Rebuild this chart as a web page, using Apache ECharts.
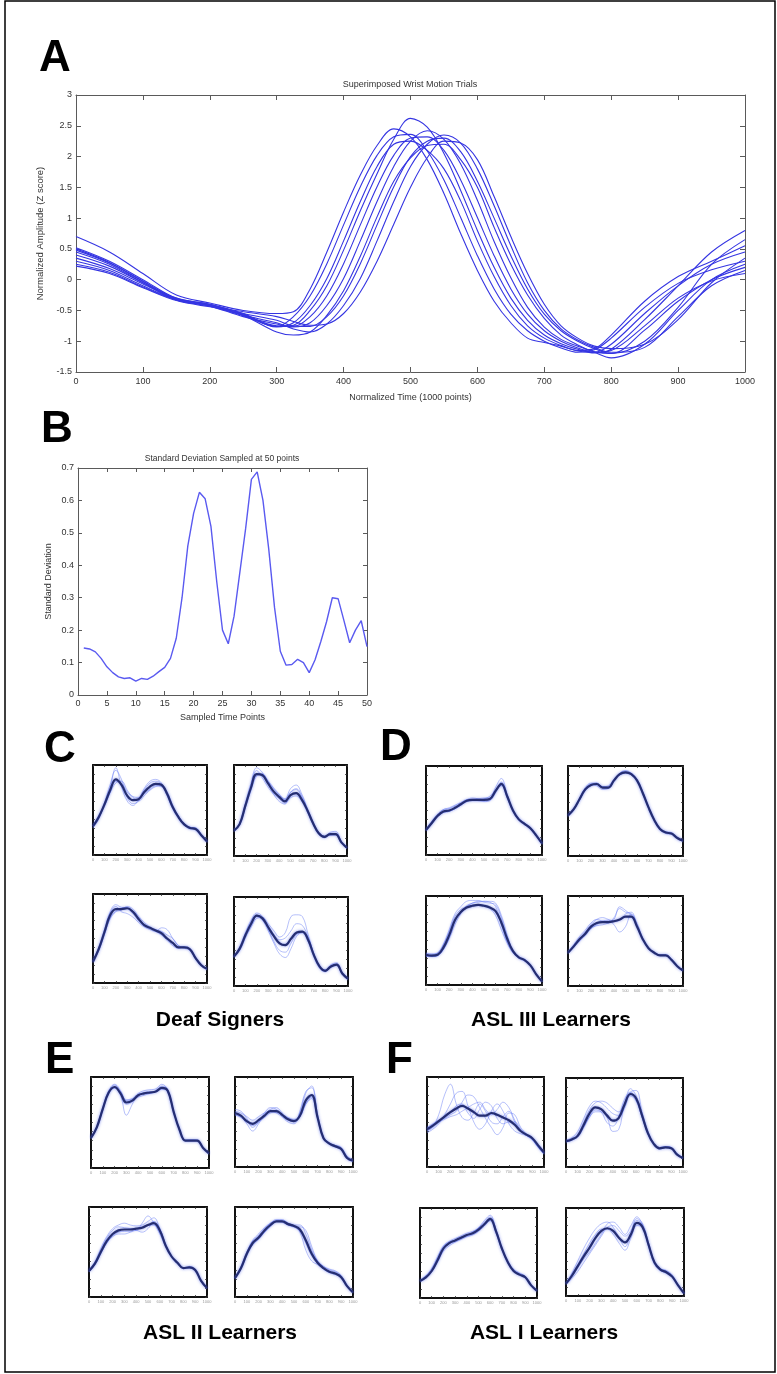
<!DOCTYPE html>
<html><head><meta charset="utf-8">
<script src="https://cdn.jsdelivr.net/npm/echarts@6/dist/echarts.min.js"></script>
<style>html,body{margin:0;padding:0;background:#fff}#c{width:777px;height:1374px}</style>
</head><body><div id="c"></div><script>
// ---------- Panel A: superimposed trials ----------
const XA = [0,50,100,150,200,250,300,325,350,375,400,425,450,475,500,525,550,575,600,625,650,675,700,725,750,775,800,850,900,950,1000];
const A1 = [0.70,0.45,0.10,-0.25,-0.38,-0.50,-0.55,-0.52,-0.15,0.45,1.10,1.70,2.18,2.45,2.32,1.95,1.40,0.75,0.15,-0.35,-0.70,-0.95,-1.02,-1.08,-1.15,-1.12,-0.90,-0.35,0.05,0.30,0.55];
const A2 = [0.52,0.30,0.00,-0.30,-0.40,-0.55,-0.76,-0.74,-0.50,-0.10,0.48,1.12,1.72,2.28,2.62,2.48,2.05,1.45,0.80,0.20,-0.30,-0.66,-0.90,-1.04,-1.13,-1.19,-1.13,-0.65,-0.10,0.45,0.80];
const A3 = [0.50,0.28,-0.02,-0.32,-0.42,-0.58,-0.76,-0.60,-0.26,0.26,0.89,1.51,2.02,2.32,2.36,2.09,1.62,1.01,0.39,-0.15,-0.56,-0.83,-1.00,-1.11,-1.18,-1.14,-0.95,-0.45,-0.06,0.16,0.30];
const A4 = [0.45,0.25,-0.05,-0.33,-0.43,-0.60,-0.72,-0.77,-0.70,-0.42,0.02,0.63,1.27,1.84,2.25,2.42,2.28,1.88,1.29,0.62,0.03,-0.45,-0.77,-0.97,-1.08,-1.17,-1.20,-0.82,-0.35,0.00,0.20];
const A5 = [0.40,0.22,-0.05,-0.30,-0.40,-0.55,-0.66,-0.75,-0.76,-0.60,-0.26,0.26,0.89,1.51,2.00,2.25,2.30,2.08,1.60,1.00,0.39,-0.15,-0.56,-0.83,-1.00,-1.12,-1.20,-1.00,-0.45,0.25,0.65];
const A6 = [0.30,0.15,-0.10,-0.32,-0.42,-0.58,-0.85,-0.90,-0.85,-0.58,-0.18,0.38,1.02,1.60,1.98,2.18,2.20,1.95,1.50,0.85,0.25,-0.25,-0.63,-0.90,-1.06,-1.18,-1.27,-1.05,-0.50,0.00,0.25];
const A7 = [0.25,0.12,-0.12,-0.33,-0.43,-0.58,-0.70,-0.80,-0.85,-0.72,-0.42,0.02,0.63,1.27,1.84,2.20,2.35,2.22,1.80,1.20,0.55,-0.05,-0.50,-0.80,-0.98,-1.10,-1.18,-1.10,-0.60,-0.10,0.15];
const A8 = [0.22,0.10,-0.13,-0.34,-0.44,-0.52,-0.60,-0.68,-0.74,-0.72,-0.55,-0.20,0.30,0.90,1.50,1.98,2.25,2.22,1.95,1.35,0.70,0.10,-0.40,-0.75,-0.95,-1.08,-1.12,-1.05,-0.65,-0.05,0.35];
const A9 = [0.35,0.18,-0.07,-0.31,-0.41,-0.56,-0.77,-0.70,-0.42,0.02,0.63,1.27,1.84,2.20,2.25,2.10,1.80,1.28,0.63,0.05,-0.42,-0.75,-0.95,-1.07,-1.16,-1.18,-1.05,-0.55,-0.10,0.25,0.45];
const A10 = [0.48,0.27,-0.03,-0.31,-0.42,-0.58,-0.75,-0.76,-0.60,-0.26,0.26,0.89,1.51,2.02,2.30,2.32,2.10,1.62,1.01,0.39,-0.15,-0.56,-0.83,-1.00,-1.11,-1.18,-1.15,-0.75,-0.30,-0.02,0.10];

// ---------- Panel B: standard deviation at 50 points ----------
const XB = [1,2,3,4,5,6,7,8,9,10,11,12,13,14,15,16,17,18,19,20,21,22,23,24,25,26,27,28,29,30,31,32,33,34,35,36,37,38,39,40,41,42,43,44,45,46,47,48,49,50];
const SD = [0.145,0.142,0.133,0.113,0.087,0.069,0.056,0.051,0.053,0.043,0.051,0.048,0.058,0.072,0.085,0.113,0.175,0.30,0.46,0.56,0.625,0.605,0.52,0.35,0.20,0.158,0.243,0.378,0.513,0.665,0.688,0.60,0.45,0.27,0.135,0.092,0.094,0.11,0.10,0.069,0.108,0.164,0.226,0.30,0.297,0.23,0.161,0.20,0.229,0.149];

// ---------- Small panels (C-F): x 0..1000, y in % of box ----------
const XS = [0,50,100,150,200,250,300,350,400,450,500,550,600,650,700,750,800,850,900,950,1000];
const SMALL_XTICKS = ['0','100','200','300','400','500','600','700','800','900','1000'];

const C1_mean = [32,42,56,72,84,78,66,61,62,70,76,79,78,68,53,42,34,30,29,22,15];
const C1_trials = [
 [30,40,58,78,94,84,64,57,60,72,80,82,79,66,51,41,33,31,28,21,14],
 [33,44,55,70,82,80,70,65,64,68,73,77,76,70,55,43,35,30,30,23,16],
 [31,41,57,75,97,76,60,55,62,74,82,84,80,67,52,42,34,29,29,22,15],
 [33,43,54,69,80,82,72,64,60,66,72,76,77,69,54,43,35,31,30,22,15]];
const C2_mean = [28,35,55,75,90,89,80,71,65,60,67,69,62,50,36,25,21,24,24,15,9];
const C2_trials = [
 [27,36,58,80,97,92,80,68,60,57,70,74,66,51,35,24,21,25,25,16,9],
 [29,34,53,72,88,90,82,74,67,63,74,78,68,52,37,26,22,23,24,15,10],
 [28,36,56,77,94,86,76,68,63,58,64,66,60,48,35,25,20,26,27,16,9],
 [28,35,54,74,89,90,83,75,68,62,70,73,64,50,36,25,21,23,23,14,8]];
const C3_mean = [24,38,57,76,83,83,84,80,72,65,62,59,56,50,45,40,40,38,28,20,16];
const C3_trials = [
 [25,40,60,80,88,85,84,78,70,64,62,60,58,54,50,42,39,37,28,20,15],
 [23,36,54,72,80,82,86,83,75,68,63,58,54,48,42,39,41,39,29,21,16],
 [24,39,58,78,86,80,78,74,68,63,60,58,62,60,50,42,40,37,27,19,15],
 [25,37,55,73,81,84,85,81,73,66,62,59,55,50,44,40,40,38,28,20,16]];
const C4_mean = [33,42,57,70,79,76,66,56,48,46,53,60,61,52,35,22,17,22,24,14,8];
const C4_trials = [
 [32,44,60,74,82,78,64,50,40,38,48,58,60,50,33,20,16,22,25,14,8],
 [34,40,54,66,76,77,70,62,55,60,78,80,78,58,36,22,18,23,24,15,9],
 [33,43,56,68,78,74,62,48,36,32,42,56,60,54,36,23,17,21,23,13,7],
 [33,41,58,72,80,76,68,58,52,54,62,70,68,55,36,22,18,24,26,15,8]];

const D1_mean = [28,36,44,49,50,53,57,61,62,62,62,63,72,80,66,50,40,35,30,22,13];
const D1_trials = [
 [29,38,46,51,52,55,58,62,64,63,61,62,76,86,68,50,40,35,31,22,13],
 [27,35,43,48,49,52,56,60,61,61,63,66,73,78,64,49,40,36,30,22,14],
 [28,37,45,51,53,56,59,62,62,61,60,61,70,82,67,50,39,34,29,21,12],
 [28,36,44,48,49,52,56,60,62,63,64,64,72,79,65,50,41,35,30,22,13]];
const D2_mean = [45,52,63,74,79,80,76,76,84,91,93,91,84,70,54,40,30,26,25,20,17];
const D2_trials = [
 [46,53,64,76,81,81,76,75,84,92,95,92,84,69,53,39,29,26,25,20,16],
 [44,51,62,73,78,79,77,78,85,90,92,91,85,71,55,41,30,27,26,21,17],
 [45,52,64,75,80,78,74,75,83,92,94,90,83,70,54,40,31,25,24,20,17],
 [45,52,62,73,79,81,77,77,85,91,93,92,85,71,54,40,30,26,25,20,17]];
const D3_mean = [34,33,34,42,56,73,82,87,89,90,89,87,83,70,52,38,31,28,22,12,4];
const D3_trials = [
 [36,35,36,46,62,80,88,94,95,95,93,92,90,75,52,37,31,29,22,12,4],
 [33,32,33,40,52,68,80,88,92,93,94,94,92,78,56,38,30,27,22,12,5],
 [35,34,36,45,60,77,85,88,90,90,89,86,78,62,47,36,31,28,22,12,4],
 [32,32,33,40,54,72,82,89,92,94,94,93,88,68,48,37,31,28,22,13,4]];
const D4_mean = [37,44,52,58,66,70,71,71,72,74,77,77,66,52,42,37,34,34,29,22,17];
const D4_trials = [
 [38,46,55,62,70,74,72,70,76,86,82,80,68,53,42,37,34,34,29,22,17],
 [36,43,50,56,64,68,72,73,68,60,66,80,70,53,42,37,35,35,30,22,17],
 [37,45,53,60,68,74,76,74,72,73,80,82,67,52,42,37,34,34,29,22,17],
 [38,44,51,57,64,67,68,70,74,88,84,78,66,52,42,37,34,34,29,22,17]];

const E1_mean = [33,45,65,83,89,82,72,74,80,82,83,84,88,85,62,42,30,30,30,22,16];
const E1_trials = [
 [34,46,67,85,92,85,74,76,82,85,86,87,92,86,62,42,30,31,31,22,16],
 [33,44,64,82,88,80,58,70,81,82,82,84,87,84,61,42,30,30,30,22,15],
 [32,45,66,84,91,84,75,76,78,80,82,85,90,86,63,43,31,31,30,22,16],
 [33,45,64,82,88,82,70,73,80,83,84,84,87,84,62,42,30,30,30,22,16]];
const E2_mean = [60,57,51,48,52,57,62,62,58,53,51,57,74,80,55,32,26,23,20,10,7];
const E2_trials = [
 [64,62,54,44,50,60,66,64,56,50,48,62,84,88,58,33,26,24,21,11,7],
 [58,56,48,40,48,58,64,66,60,54,52,56,70,78,54,32,26,24,22,12,8],
 [62,60,56,52,56,60,62,60,56,52,50,60,82,90,57,33,27,23,19,9,6],
 [58,55,50,46,50,55,60,61,58,55,53,56,70,76,54,32,25,22,20,10,7]];
const E3_mean = [29,37,50,62,70,74,75,75,76,77,80,82,74,57,45,38,32,33,30,18,10];
const E3_trials = [
 [30,39,54,67,76,80,82,80,79,80,84,88,76,58,45,38,32,34,31,18,10],
 [28,36,48,60,67,70,70,72,74,72,76,84,76,58,45,38,32,33,30,18,10],
 [29,38,52,65,74,78,77,76,74,82,90,82,70,56,44,37,32,32,29,17,9],
 [28,36,49,60,68,72,73,73,76,78,80,80,72,57,45,38,32,33,30,18,10]];
const E4_mean = [21,32,48,60,66,74,80,84,84,81,79,75,63,48,38,32,28,26,22,12,5];
const E4_trials = [
 [22,34,50,63,70,77,82,86,86,82,80,80,70,52,40,34,30,28,23,12,5],
 [20,31,46,58,64,72,79,85,84,80,78,72,52,40,36,32,28,26,21,11,5],
 [22,33,49,62,68,76,82,84,83,80,78,78,74,56,40,34,31,29,24,13,6],
 [21,32,47,59,65,72,78,84,85,82,79,74,60,46,37,31,27,25,22,12,5]];

const F1_mean = [42,46,51,56,61,65,68,65,61,57,57,60,58,55,52,47,40,36,32,24,16];
const F1_trials = [
 [40,45,58,80,92,70,55,52,60,70,62,50,48,56,62,50,40,35,30,22,15],
 [38,42,48,58,70,82,84,68,50,42,48,62,70,62,48,40,37,35,31,22,14],
 [44,48,52,54,58,62,72,80,78,66,54,44,36,44,60,58,44,37,32,24,16],
 [40,44,50,55,60,68,70,60,54,64,72,68,54,48,50,50,42,36,31,22,15],
 [43,47,50,53,56,58,62,66,70,72,64,58,64,72,66,52,40,35,31,23,16]];
const F2_mean = [29,31,35,47,60,67,65,58,52,55,70,82,77,58,38,26,21,22,21,14,10];
const F2_trials = [
 [30,33,40,54,68,74,72,66,60,58,66,84,86,62,40,27,21,23,22,15,10],
 [28,30,34,45,56,62,62,56,40,42,70,80,74,56,37,25,20,22,21,14,10],
 [29,32,37,50,64,72,74,72,66,62,72,88,80,58,37,26,21,22,21,14,10],
 [29,31,34,44,56,64,62,50,46,56,76,84,76,56,38,26,22,23,22,14,10]];
const F3_mean = [19,23,30,42,55,61,64,67,70,72,76,82,88,74,55,40,30,26,23,14,8];
const F3_trials = [
 [20,25,33,46,58,63,66,69,72,74,78,86,92,76,56,40,30,27,24,14,8],
 [18,22,29,40,52,58,62,65,68,70,74,80,86,72,54,40,31,27,23,14,8],
 [19,24,32,44,57,62,64,66,70,73,78,84,90,75,55,41,32,28,24,15,8],
 [19,23,30,41,54,60,63,66,69,71,75,81,87,73,54,39,30,26,23,14,8]];
const F4_mean = [14,23,34,45,55,66,74,77,74,66,61,70,83,78,58,38,30,27,22,12,3];
const F4_trials = [
 [15,26,40,54,66,76,82,84,78,66,56,72,88,82,60,38,30,28,23,12,3],
 [13,20,28,38,48,58,68,78,80,74,68,74,86,80,58,38,31,28,22,12,3],
 [15,24,36,48,60,70,76,76,70,60,52,66,80,78,58,38,31,29,24,13,4],
 [14,22,32,42,50,60,70,82,84,78,70,80,90,80,56,36,29,26,22,12,3]];

const GROUP_LABELS = ['Deaf Signers','ASL III Learners','ASL II Learners','ASL I Learners'];
const PANEL_LETTERS = ['A','B','C','D','E','F'];

// ---------- build ----------
const FONT = '"Liberation Sans", Arial, Helvetica, sans-serif';
const grids = [], xAxes = [], yAxes = [], series = [];
const plain = (v) => String(Math.round(v * 1000) / 1000);

function addGrid(rect){
  grids.push({left:rect[0], top:rect[1], width:rect[2], height:rect[3], containLabel:false, outerBoundsMode:'none', show:false});
  return grids.length - 1;
}
function axisPair(list, gi, base, mainExtra, posMain, posMirror){
  list.push(Object.assign({gridIndex:gi, position:posMain}, base, mainExtra));
  list.push(Object.assign({gridIndex:gi, position:posMirror}, base, {axisLabel:{show:false}, name:''}));
  return list.length - 2;
}

// Panel A
(function(){
  const gi = addGrid([76,95,669,277]);
  const common = {type:'value', splitLine:{show:false},
    axisLine:{show:true, onZero:false, lineStyle:{color:'#5a5a5a', width:1}},
    axisTick:{show:true, inside:true, length:5, lineStyle:{color:'#5a5a5a'}}};
  const xi = axisPair(xAxes, gi, Object.assign({min:0,max:1000,interval:100}, common), {
    axisLabel:{fontSize:9, color:'#333', fontFamily:FONT, margin:5, formatter:plain},
    name:'Normalized Time (1000 points)', nameLocation:'middle', nameGap:21,
    nameTextStyle:{fontSize:9, color:'#333', fontFamily:FONT}}, 'bottom','top');
  const yi = axisPair(yAxes, gi, Object.assign({min:-1.5,max:3,interval:0.5}, common), {
    axisLabel:{fontSize:9, color:'#333', fontFamily:FONT, margin:4, formatter:plain},
    name:'Normalized Amplitude (Z score)', nameLocation:'middle', nameGap:27,
    nameTextStyle:{fontSize:9.5, color:'#333', fontFamily:FONT}}, 'left','right');
  [A1,A2,A3,A4,A5,A6,A7,A8,A9,A10].forEach(arr => {
    series.push({type:'line', xAxisIndex:xi, yAxisIndex:yi, smooth:0.35, showSymbol:false, silent:true,
      data: XA.map((x,i)=>[x,arr[i]]), lineStyle:{color:'#3535e2', width:1.1}});
  });
})();

// Panel B
(function(){
  const gi = addGrid([78,468,289,227]);
  const common = {type:'value', splitLine:{show:false},
    axisLine:{show:true, onZero:false, lineStyle:{color:'#5a5a5a', width:1}},
    axisTick:{show:true, inside:true, length:4, lineStyle:{color:'#5a5a5a'}}};
  const xi = axisPair(xAxes, gi, Object.assign({min:0,max:50,interval:5}, common), {
    axisLabel:{fontSize:9, color:'#333', fontFamily:FONT, margin:4, formatter:plain},
    name:'Sampled Time Points', nameLocation:'middle', nameGap:18,
    nameTextStyle:{fontSize:9, color:'#333', fontFamily:FONT}}, 'bottom','top');
  const yi = axisPair(yAxes, gi, Object.assign({min:0,max:0.7,interval:0.1}, common), {
    axisLabel:{fontSize:9, color:'#333', fontFamily:FONT, margin:4, formatter:plain},
    name:'Standard Deviation', nameLocation:'middle', nameGap:25,
    nameTextStyle:{fontSize:9, color:'#333', fontFamily:FONT}}, 'left','right');
  series.push({type:'line', xAxisIndex:xi, yAxisIndex:yi, smooth:false, showSymbol:false, silent:true,
    data: XB.map((x,i)=>[x,SD[i]]), lineStyle:{color:'#5a5af0', width:1.4}});
})();

// Small panels
function small(rect, mean, trials){
  const gi = addGrid(rect);
  const common = {type:'value', splitLine:{show:false},
    axisLine:{show:true, onZero:false, lineStyle:{color:'#111', width:2}},
    axisTick:{show:true, inside:true, length:2, lineStyle:{color:'#333', width:0.8}}};
  const xi = axisPair(xAxes, gi, Object.assign({min:0,max:1000,interval:100}, common), {
    axisLabel:{fontSize:4, color:'#999', fontFamily:FONT, margin:3,
      formatter:(v)=>SMALL_XTICKS[Math.round(v/100)] || ''}}, 'bottom','top');
  const yi = axisPair(yAxes, gi, Object.assign({min:0,max:100,interval:10}, common), {
    axisLabel:{show:false}}, 'left','right');
  trials.forEach(arr => {
    series.push({type:'line', xAxisIndex:xi, yAxisIndex:yi, smooth:0.4, showSymbol:false, silent:true,
      data: XS.map((x,i)=>[x,arr[i]]), lineStyle:{color:'rgba(110,130,245,0.5)', width:1}});
  });
  series.push({type:'line', xAxisIndex:xi, yAxisIndex:yi, smooth:0.4, showSymbol:false, silent:true,
    data: XS.map((x,i)=>[x,mean[i]]),
    lineStyle:{color:'#252e72', width:2.2, shadowColor:'rgba(70,90,230,0.7)', shadowBlur:3}});
}
small([93,765,114,90], C1_mean, C1_trials);
small([234,765,113,91], C2_mean, C2_trials);
small([93,894,114,89], C3_mean, C3_trials);
small([234,897,114,89], C4_mean, C4_trials);
small([426,766,116,89], D1_mean, D1_trials);
small([568,766,115,90], D2_mean, D2_trials);
small([426,896,116,89], D3_mean, D3_trials);
small([568,896,115,90], D4_mean, D4_trials);
small([91,1077,118,91], E1_mean, E1_trials);
small([235,1077,118,90], E2_mean, E2_trials);
small([89,1207,118,90], E3_mean, E3_trials);
small([235,1207,118,90], E4_mean, E4_trials);
small([427,1077,117,90], F1_mean, F1_trials);
small([566,1078,117,89], F2_mean, F2_trials);
small([420,1208,117,90], F3_mean, F3_trials);
small([566,1208,118,88], F4_mean, F4_trials);

// Text / decorations
function txt(s, x, y, font, align, color){
  return {type:'text', x:x, y:y, silent:true, z:100,
    style:{text:s, font:font, fill:color||'#000', textAlign:align||'left',
      textVerticalAlign:'middle', verticalAlign:'middle'}};
}
const letterFont = 'bold 44px ' + FONT;
const graphics = [
  {type:'rect', silent:true, z:-10, shape:{x:5,y:1,width:770,height:1371},
    style:{fill:'transparent', stroke:'#000', lineWidth:1.5}},
  txt(PANEL_LETTERS[0], 39, 59, letterFont),
  txt(PANEL_LETTERS[1], 41, 430, letterFont),
  txt(PANEL_LETTERS[2], 44, 750, letterFont),
  txt(PANEL_LETTERS[3], 380, 748, letterFont),
  txt(PANEL_LETTERS[4], 45, 1061, letterFont),
  txt(PANEL_LETTERS[5], 386, 1061, letterFont),
  txt('Superimposed Wrist Motion Trials', 410, 85, '9px ' + FONT, 'center', '#333'),
  txt('Standard Deviation Sampled at 50 points', 222, 459, '8.5px ' + FONT, 'center', '#333'),
  txt(GROUP_LABELS[0], 220, 1020, 'bold 21px ' + FONT, 'center'),
  txt(GROUP_LABELS[1], 551, 1020, 'bold 21px ' + FONT, 'center'),
  txt(GROUP_LABELS[2], 220, 1333, 'bold 21px ' + FONT, 'center'),
  txt(GROUP_LABELS[3], 544, 1333, 'bold 21px ' + FONT, 'center')
];

const chart = echarts.init(document.getElementById('c'), null, {renderer:'canvas'});
chart.setOption({
  animation:false,
  backgroundColor:'#fff',
  grid:grids, xAxis:xAxes, yAxis:yAxes, series:series,
  graphic:graphics
});
</script></body></html>
